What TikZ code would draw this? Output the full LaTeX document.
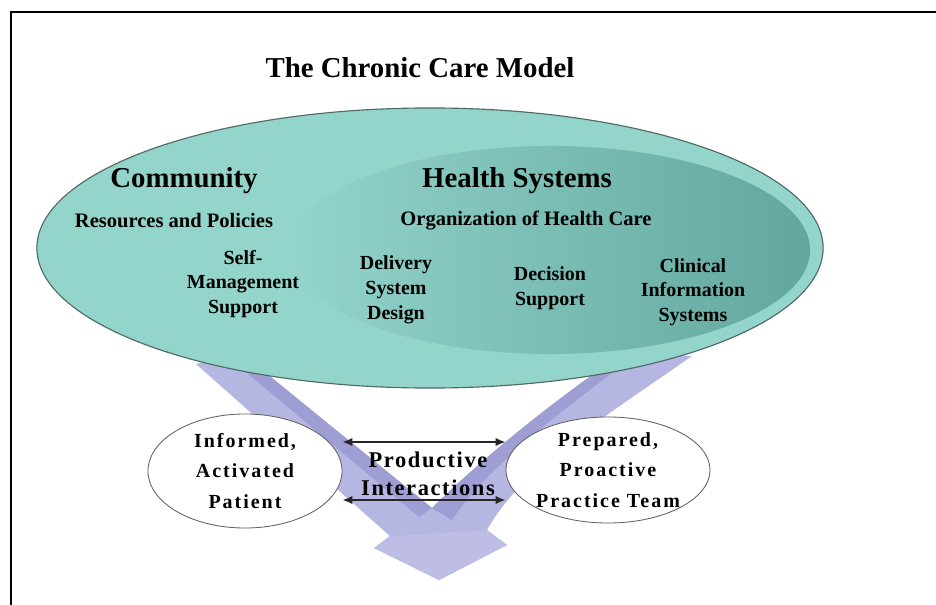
\documentclass[tikz,border=0pt]{standalone}
\usepackage{fontspec}
\setmainfont{Liberation Serif}
\usepackage{xcolor}
\usepackage{tikz}
\usetikzlibrary{shapes.geometric}
\usetikzlibrary{arrows.meta}
\usetikzlibrary{positioning}

\definecolor{tealout}{HTML}{93D4CB}
\definecolor{tealin}{HTML}{62A79F}
\definecolor{rimgray}{HTML}{4F6965}
\definecolor{lav}{HTML}{B6B6E2}
\definecolor{lavdark}{HTML}{9E9ED4}
\definecolor{lavhead}{HTML}{BDBDE6}

\begin{document}
\begin{tikzpicture}[x=0.025cm, y=-0.025cm,
  every node/.style={font=\bfseries, align=center, inner sep=0pt},
  header/.style={font=\bfseries\fontsize{20.5}{24}\selectfont},
  subhead/.style={font=\bfseries\fontsize{14.6}{17}\selectfont},
  item/.style={font=\bfseries\fontsize{14.2}{17.6}\selectfont},
  oval/.style={ellipse, draw=gray!75!black, line width=0.6pt, fill=white,
    font=\bfseries\fontsize{14.2}{21.5}\selectfont\addfontfeature{LetterSpace=10}},
]
\tikzset{>={Latex[length=7pt, width=6pt]}}

\useasboundingbox (0,0) rectangle (936,605);
\clip (0,0) rectangle (936,605);
\fill[white] (0,0) rectangle (936,605);
\draw[line width=1.6pt] (11,12) rectangle (990,660);

%% the big V arrow (drawn first, ellipse covers its top)
\fill[lav] (196,364) -- (240,352) -- (432,508)
  .. controls (470,470) and (540,410) .. (625,352) -- (692,356)
  .. controls (600,420) and (520,470) .. (487,530)
  -- (507,545) -- (439,580) -- (374,548) -- (390,536) -- cycle;
\fill[lavdark] (222,352) -- (240,352) -- (432,508) -- (419,517) -- cycle;
\fill[lavdark] (432,508) .. controls (470,470) and (540,410) .. (625,352)
  -- (640,352) .. controls (555,415) and (485,470) .. (452,520) -- cycle;
\fill[lavhead] (390,536) -- (487,530) -- (507,545) -- (439,580) -- (374,548) -- cycle;

%% model ellipse
\node[ellipse, fill=tealout, draw=rimgray, line width=0.8pt,
      minimum width=19.65cm, minimum height=7cm] (ccm) at (430,248) {};
\node[ellipse, left color=tealout, right color=tealin,
      minimum width=13cm, minimum height=5.2cm] (hs) at (550,250) {};

\node[header, anchor=base] (title) at (420,77) {The Chronic Care Model};

\node[header, anchor=base] (comm)   at (184,187) {Community};
\node[header, anchor=base] (health) at (517,187) {Health Systems};
\node[subhead, anchor=base] (res) at (174,227) {Resources and Policies};
\node[subhead, anchor=base] (org) at (526,225) {Organization of Health Care};

\node[item] (sms) at (243,284) {Self-\\Management\\Support};
\node[item] (dsd) at (396,290) {Delivery\\System\\Design};
\node[item] (ds)  at (550,288) {Decision\\Support};
\node[item] (cis) at (693,292) {Clinical\\Information\\Systems};

%% patient and team
\node[oval, minimum width=4.85cm, minimum height=2.85cm] (patient) at (245,471)
  {Informed,\\Activated\\Patient};
\node[oval, minimum width=5.1cm, minimum height=2.65cm] (team) at (608,470)
  {Prepared,\\Proactive\\Practice Team};

\coordinate (upper) at (0,442);
\coordinate (lower) at (0,500);
\draw[<->, line width=1.2pt, black!85] (patient.east |- upper) -- (team.west |- upper);
\draw[<->, line width=1.2pt, black!85] (patient.east |- lower) -- (team.west |- lower);

\node[font=\bfseries\fontsize{16}{20}\selectfont\addfontfeature{LetterSpace=7}]
  (pi) at (428,474) {Productive\\Interactions};

\end{tikzpicture}
\end{document}
